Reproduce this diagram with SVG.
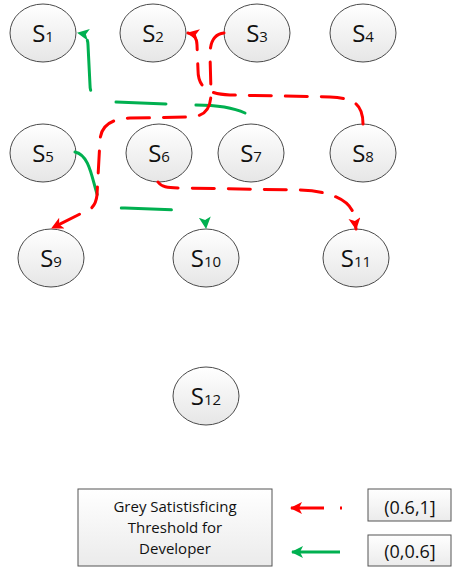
<svg xmlns="http://www.w3.org/2000/svg" width="452" height="568" viewBox="0 0 452 568">
<style>
.node ellipse{fill:url(#g);stroke:#4a4a4a;stroke-width:1}
.lbl{font-family:"Open Sans","Liberation Sans",sans-serif;font-size:24px;fill:#111;text-anchor:middle}
.sub{font-size:15px}
.red{fill:none;stroke:#ff0000;stroke-width:3;stroke-linecap:round;stroke-dasharray:22 14;marker-end:url(#ar)}
.grn{fill:none;stroke:#00b050;stroke-width:3;stroke-linecap:round;stroke-dasharray:50 30}
.box{fill:url(#gb);stroke:#555;stroke-width:1}
.lt{font-family:"Open Sans","Liberation Sans",sans-serif;font-size:15px;fill:#111;text-anchor:middle}
.lv{font-family:"Open Sans","Liberation Sans",sans-serif;font-size:18px;fill:#111;text-anchor:middle}
</style>
<defs>
<linearGradient id="g" x1="0" y1="0" x2="0" y2="1"><stop offset="0" stop-color="#ffffff"/><stop offset="1" stop-color="#e6e6e6"/></linearGradient>
<linearGradient id="gb" x1="0" y1="0" x2="0" y2="1"><stop offset="0" stop-color="#ffffff"/><stop offset="1" stop-color="#ebebeb"/></linearGradient>
<marker id="ar" markerUnits="userSpaceOnUse" markerWidth="16" markerHeight="14" refX="11" refY="6" orient="auto"><path d="M0,0 L12,6 L0,12 L3,6 z" fill="#ff0000"/></marker>
<marker id="ag" markerUnits="userSpaceOnUse" markerWidth="16" markerHeight="14" refX="11" refY="6" orient="auto"><path d="M0,0 L12,6 L0,12 L3,6 z" fill="#00b050"/></marker>
</defs>
<rect width="452" height="568" fill="#ffffff"/>
<g id="S1" class="node"><ellipse cx="43" cy="33" rx="33" ry="29"/><text class="lbl" x="43" y="42">S<tspan class="sub">1</tspan></text></g>
<g id="S2" class="node"><ellipse cx="153" cy="33" rx="33" ry="29"/><text class="lbl" x="153" y="42">S<tspan class="sub">2</tspan></text></g>
<g id="S3" class="node"><ellipse cx="257" cy="33" rx="33" ry="29"/><text class="lbl" x="257" y="42">S<tspan class="sub">3</tspan></text></g>
<g id="S4" class="node"><ellipse cx="363" cy="33" rx="33" ry="29"/><text class="lbl" x="363" y="42">S<tspan class="sub">4</tspan></text></g>
<g id="S5" class="node"><ellipse cx="43" cy="153" rx="33" ry="29"/><text class="lbl" x="43" y="162">S<tspan class="sub">5</tspan></text></g>
<g id="S6" class="node"><ellipse cx="159" cy="153" rx="33" ry="29"/><text class="lbl" x="159" y="162">S<tspan class="sub">6</tspan></text></g>
<g id="S7" class="node"><ellipse cx="251" cy="153" rx="33" ry="29"/><text class="lbl" x="251" y="162">S<tspan class="sub">7</tspan></text></g>
<g id="S8" class="node"><ellipse cx="363" cy="153" rx="33" ry="29"/><text class="lbl" x="363" y="162">S<tspan class="sub">8</tspan></text></g>
<g id="S9" class="node"><ellipse cx="51" cy="258" rx="33" ry="29"/><text class="lbl" x="51" y="267">S<tspan class="sub">9</tspan></text></g>
<g id="S10" class="node"><ellipse cx="206" cy="258" rx="33" ry="29"/><text class="lbl" x="206" y="267">S<tspan class="sub">10</tspan></text></g>
<g id="S11" class="node"><ellipse cx="356" cy="258" rx="33" ry="29"/><text class="lbl" x="356" y="267">S<tspan class="sub">11</tspan></text></g>
<g id="S12" class="node"><ellipse cx="206" cy="396" rx="33" ry="29"/><text class="lbl" x="206" y="405">S<tspan class="sub">12</tspan></text></g>
<g id="connectors">
<path class="grn" marker-end="url(#ag)" d="M245,113 C232,107 212,105 195,105 L113,102 C96,101 90,95 90,85 L88,45 C88,38 84,34 78,33"/>
<path class="grn" d="M75,152 C90,155 92,180 98,197 C102,206 112,208 125,208 L176,210"/>
<path d="M205,219 L206,228" fill="none" stroke="none" marker-end="url(#ag)"/>
<path class="red" d="M363,124 C363,105 355,98 330,97 L230,95 C206,94 198,86 198,70 L197,45 C197,38 193,34 188,33"/>
<path class="red" d="M224,33 C214,34 210,42 210,55 L211,92 C211,110 205,116 190,117 L130,118 C110,119 101,126 100,140 L97,195 C96,205 92,210 80,214 L52,228"/>
<path class="red" d="M158,182 C162,188 170,188 185,188 L300,190 C330,191 350,200 354,215 L356,229"/>
</g>
<g id="legend">
<rect class="box" x="78" y="489" width="194" height="77"/>
<text class="lt" x="175" y="512">Grey Satistisficing</text>
<text class="lt" x="175" y="533">Threshold for</text>
<text class="lt" x="175" y="554">Developer</text>
<rect class="box" x="368" y="489" width="83" height="32"/>
<text class="lv" x="410" y="514">(0.6,1]</text>
<rect class="box" x="368" y="535" width="83" height="31"/>
<text class="lv" x="410" y="558">(0,0.6]</text>
<path d="M342,508 L291,508" fill="none" stroke="#ff0000" stroke-width="3" stroke-dasharray="2 16 40" marker-end="url(#ar)"/>
<path d="M340,552 L292,552" fill="none" stroke="#00b050" stroke-width="3" marker-end="url(#ag)"/>
</g>
</svg>
